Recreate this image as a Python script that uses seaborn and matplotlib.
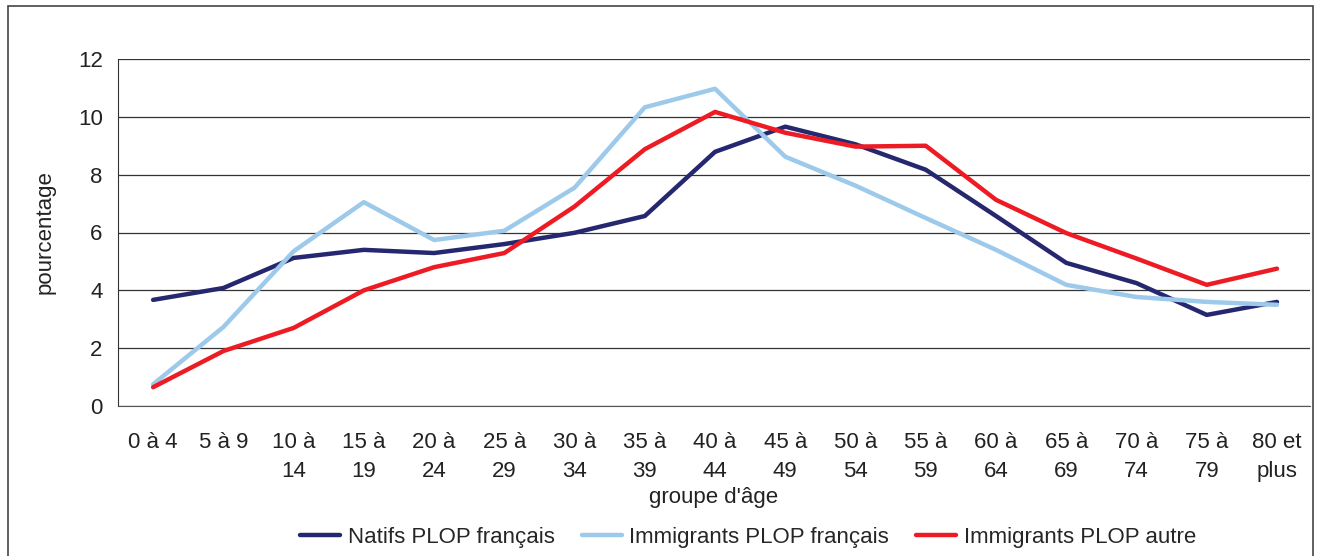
import numpy as np
import pandas as pd
import matplotlib.pyplot as plt
import seaborn as sns
from matplotlib.patches import Rectangle

# groupes d'âge
groupes = ["0 à 4", "5 à 9", "10 à\n14", "15 à\n19", "20 à\n24", "25 à\n29", "30 à\n34",
           "35 à\n39", "40 à\n44", "45 à\n49", "50 à\n54", "55 à\n59", "60 à\n64",
           "65 à\n69", "70 à\n74", "75 à\n79", "80 et\nplus"]

natifs = [3.67, 4.08, 5.12, 5.40, 5.29, 5.60, 5.99, 6.57, 8.79, 9.66, 9.05, 8.17,
          6.57, 4.95, 4.25, 3.15, 3.60]
immig_fr = [0.75, 2.73, 5.35, 7.05, 5.74, 6.06, 7.55, 10.33, 10.97, 8.62, 7.62, 6.50,
            5.40, 4.19, 3.77, 3.60, 3.50]
immig_autre = [0.65, 1.90, 2.70, 4.00, 4.80, 5.29, 6.90, 8.88, 10.17, 9.45, 8.97, 9.00,
               7.13, 5.98, 5.10, 4.19, 4.75]

series = ["Natifs PLOP français", "Immigrants PLOP français", "Immigrants PLOP autre"]
couleurs = ["#25276f", "#9dc9ea", "#ed1c24"]

df = pd.DataFrame({
    "groupe": groupes * 3,
    "valeur": natifs + immig_fr + immig_autre,
    "serie": [s for s in series for _ in groupes],
})

sns.set_style("white")
plt.rcParams['font.family'] = ['Liberation Sans', 'DejaVu Sans']
fs = 16

fig = plt.figure(figsize=(13.17, 5.56), dpi=100)
ax = fig.add_axes([118 / 1317, 1 - 406 / 556, (1310 - 118) / 1317, (406 - 59) / 556])

sns.lineplot(data=df, x="groupe", y="valeur", hue="serie", hue_order=series,
             palette=couleurs, linewidth=3.2, sort=False, ax=ax)

ax.set_xlim(-0.5, 16.47)
ax.set_ylim(0, 12)
ax.set_yticks(range(0, 13, 2))
ax.yaxis.grid(True, color="#333333", linewidth=0.9)
ax.set_axisbelow(True)
for s in ["top", "right"]:
    ax.spines[s].set_visible(False)
ax.spines["left"].set_color("#333333")
ax.spines["bottom"].set_color("#555555")
ax.tick_params(axis="both", length=0, labelsize=fs, colors="#222222")
ax.tick_params(axis="x", pad=19)
ax.tick_params(axis="y", pad=11)
ax.set_xticks(range(len(groupes)))
ax.set_xticklabels(groupes, fontsize=fs, linespacing=1.45)
ax.set_xlabel("groupe d'âge", fontsize=fs, color="#222222", labelpad=4)
ax.set_ylabel("pourcentage", fontsize=fs, color="#222222", labelpad=16)

ax.legend(loc="center", bbox_to_anchor=(748 / 1317, 1 - 537 / 556),
          bbox_transform=fig.transFigure, ncol=3,
          frameon=False, fontsize=fs, handlelength=1.8, handletextpad=0.35,
          columnspacing=1.2)

fig.patches.append(Rectangle((8 / 1317, -0.01), (1313 - 8) / 1317, 1 - 6 / 556 + 0.01,
                             transform=fig.transFigure, fill=False,
                             edgecolor="#444444", linewidth=1.2))

fig.savefig("out.png", dpi=100)
